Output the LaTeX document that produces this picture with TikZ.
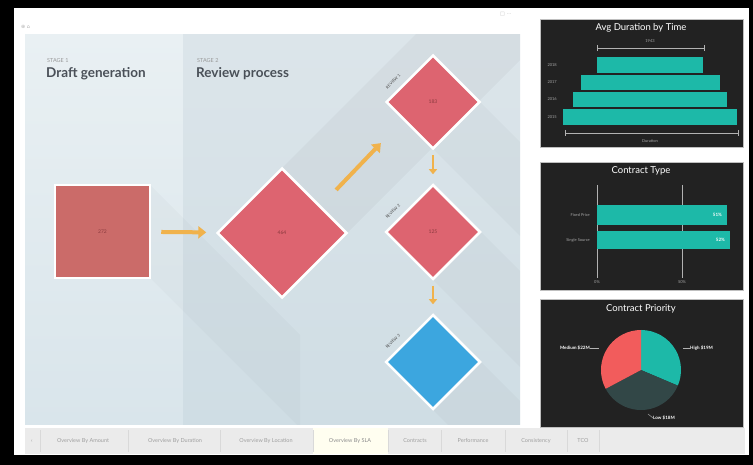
\documentclass[tikz,border=0pt]{standalone}
\usepackage{fontspec}
\setmainfont{Lato}
\newfontfamily\symfont{DejaVu Sans}
\usetikzlibrary{shapes.geometric,arrows.meta,calc}
\definecolor{stageAtop}{HTML}{E9F0F3}
\definecolor{stageAbot}{HTML}{D9E5EB}
\definecolor{stageBtop}{HTML}{DCE5EA}
\definecolor{stageBbot}{HTML}{CFDDE4}
\definecolor{redbox}{HTML}{CB6B69}
\definecolor{reddia}{HTML}{DD6470}
\definecolor{bluedia}{HTML}{3CA6DF}
\definecolor{arrowc}{HTML}{F0B24C}
\definecolor{panelc}{HTML}{222222}
\definecolor{tealc}{HTML}{1DB9A8}
\definecolor{pred}{HTML}{F25C5C}
\definecolor{pdark}{HTML}{324747}
\definecolor{tabbg}{HTML}{EBEBEB}
\definecolor{numc}{HTML}{8A3A3E}
\definecolor{titlec}{HTML}{4A5058}
\tikzset{
  sqbox/.style={rectangle, fill=redbox, draw=white, line width=2.5pt, minimum width=95pt, minimum height=93pt, inner sep=0pt, font=\fontsize{5}{6}\selectfont, text=numc},
  diabox/.style={diamond, aspect=1, fill=reddia, draw=white, line width=2.5pt, inner sep=0pt, font=\fontsize{5}{6}\selectfont, text=numc},
  flowarrow/.style={draw=arrowc, line width=4pt, -{Triangle[length=8pt,width=12pt]}},
  smallarrow/.style={draw=arrowc, line width=2.5pt, -{Triangle[length=5pt,width=8pt]}},
  revlbl/.style={rotate=45, font=\fontsize{4}{5}\selectfont, text=gray!60!black, inner sep=0pt},
  stagelbl/.style={anchor=base west, font=\fontsize{5.5}{6}\selectfont, text=gray!80, inner sep=0pt},
  stagetitle/.style={anchor=base west, font=\bfseries\fontsize{13.5}{15}\selectfont, text=titlec, inner sep=0pt},
  panelbox/.style={fill=panelc, draw=gray!50, line width=0.6pt},
  charttitle/.style={font=\fontsize{9.5}{11}\selectfont, text=white, inner sep=0pt},
  tinylbl/.style={font=\fontsize{4}{5}\selectfont, text=gray!70, inner sep=0pt},
  barlbl/.style={font=\bfseries\fontsize{4.5}{5}\selectfont, text=white, inner sep=0pt},
  pielbl/.style={font=\bfseries\fontsize{4.5}{5}\selectfont, text=white, inner sep=0pt},
  tablbl/.style={font=\fontsize{5.5}{6}\selectfont, text=gray!75, inner sep=0pt},
  tabsep/.style={draw=gray!30, line width=0.5pt},
  axisline/.style={draw=gray!60, line width=0.6pt}
}
\begin{document}
\begin{tikzpicture}[x=1pt,y=-1pt]
\useasboundingbox (0,0) rectangle (753,465);
% frame and page
\fill[black] (0,0) rectangle (753,465);
\fill[white] (14,8) rectangle (749,455);
% stage backgrounds
\shade[top color=stageAtop, bottom color=stageAbot] (25,35) rectangle (183,424);
\shade[top color=stageBtop, bottom color=stageBbot] (183,35) rectangle (520,424);
% long shadows
\begin{scope}
  \clip (25,35) rectangle (520,424);
  \fill[black, opacity=0.03] (282,168) -- (347,233) -- (647,-67) -- (582,-132) -- cycle;
  \fill[black, opacity=0.025] (480,102) -- (433,149) -- (633,349) -- (680,302) -- cycle;
  \fill[black, opacity=0.025] (481,232) -- (433,280) -- (633,480) -- (681,432) -- cycle;
  \fill[black, opacity=0.025] (481,362) -- (433,410) -- (633,610) -- (681,562) -- cycle;
  \fill[black, opacity=0.02] (150,185) -- (150,278) -- (300,428) -- (300,335) -- cycle;
\end{scope}
% small icons
\node[font=\symfont\fontsize{5}{6}\selectfont, text=gray!60, anchor=west, inner sep=0pt] (icons) at (21,27) {⊕ ⌂};
\node[font=\symfont\fontsize{5}{6}\selectfont, text=gray!50, anchor=west, inner sep=0pt] (icons2) at (500,14) {□ ⋯};
% stage titles
\node[stagelbl] (st1) at (47,63) {STAGE 1};
\node[stagetitle] (tt1) at (46,78) {Draft generation};
\node[stagelbl] (st2) at (197,63) {STAGE 2};
\node[stagetitle] (tt2) at (196,78) {Review process};
% flow shapes
\node[sqbox] (s272) at (102.5,231.5) {272};
\node[diabox, minimum width=130pt, minimum height=130pt] (d464) at (282,233) {464};
\node[diabox, minimum width=94pt, minimum height=94pt] (d183) at (433,102) {183};
\node[diabox, minimum width=95pt, minimum height=95pt] (d125) at (433,232) {125};
\node[diabox, fill=bluedia, minimum width=95pt, minimum height=95pt] (d3) at (433,362) {};
% review labels
\node[revlbl] (r1) at ($(d183.west)!0.3!(d183.north)+(-6,-6)$) {REVIEW 1};
\node[revlbl] (r2) at ($(d125.west)!0.3!(d125.north)+(-6,-6)$) {REVIEW 2};
\node[revlbl] (r3) at ($(d3.west)!0.3!(d3.north)+(-6,-6)$) {REVIEW 3};
% arrows
\draw[flowarrow, shorten <=10pt, shorten >=10pt] (s272) -- (d464);
\draw[flowarrow] ($(d464.north east)+(21,-10)$) -- ($(d183.south west)+(-28,17)$);
\draw[smallarrow, shorten <=5pt, shorten >=9pt] (d183) -- (d125);
\draw[smallarrow, shorten <=5pt, shorten >=9pt] (d125) -- (d3);
% ---------- chart 1
\draw[panelbox] (540,19) rectangle (743,147);
\node[charttitle] (c1t) at (641,28) {Avg Duration by Time};
\draw[axisline] (597,48) -- (704,48);
\draw[axisline] (597,45) -- (597,51);
\draw[axisline] (704,45) -- (704,51);
\node[tinylbl] (c1top) at (650,41) {1943};
\fill[tealc] (597,57) rectangle (703,73);
\fill[tealc] (581,75) rectangle (720,90);
\fill[tealc] (573,92) rectangle (727,107);
\fill[tealc] (563,109) rectangle (737,125);
\node[tinylbl, anchor=east] (y1) at (557,65) {2018};
\node[tinylbl, anchor=east] (y2) at (557,82.5) {2017};
\node[tinylbl, anchor=east] (y3) at (557,99.5) {2016};
\node[tinylbl, anchor=east] (y4) at (557,117) {2015};
\draw[axisline] (565,133) -- (738,133);
\draw[axisline] (565,130) -- (565,136);
\draw[axisline] (738,130) -- (738,136);
\node[tinylbl] (c1x) at (650,141) {Duration};
% ---------- chart 2
\draw[panelbox] (540,162) rectangle (743,290);
\node[charttitle] (c2t) at (641,171) {Contract Type};
\draw[axisline] (597,185) -- (597,278);
\draw[axisline] (682,185) -- (682,278);
\fill[tealc] (597,205) rectangle (727,225);
\fill[tealc] (597,231) rectangle (730,249);
\node[barlbl, anchor=east] (b1) at (722,215) {51\%};
\node[barlbl, anchor=east] (b2) at (725,240) {52\%};
\node[tinylbl, anchor=east] (l1) at (590,215) {Fixed Price};
\node[tinylbl, anchor=east] (l2) at (590,240) {Single Source};
\node[tinylbl] (x0) at (597,282) {0\%};
\node[tinylbl] (x50) at (682,282) {50\%};
% ---------- chart 3
\draw[panelbox] (540,299) rectangle (743,427);
\node[charttitle] (c3t) at (641,309) {Contract Priority};
\coordinate (pc) at (641,370);
\fill[tealc] (pc) -- ++(-90:40) arc[start angle=-90, end angle=23, radius=40] -- cycle;
\fill[pdark] (pc) -- ++(23:40) arc[start angle=23, end angle=152, radius=40] -- cycle;
\fill[pred] (pc) -- ++(152:40) arc[start angle=152, end angle=270, radius=40] -- cycle;
\node[pielbl, anchor=east] (pm) at (590,348) {Medium \$22M};
\node[pielbl, anchor=west] (ph) at (690,348) {High \$19M};
\node[pielbl, anchor=west] (pl) at (653,418) {Low \$18M};
\draw[gray!60, line width=0.4pt] (pm.east) -- ++(9,0);
\draw[gray!60, line width=0.4pt] (ph.west) -- ++(-7,0);
\draw[gray!60, line width=0.4pt] (pl.west) -- ++(-5,-4);
% ---------- tab bar
\fill[tabbg] (25,428) rectangle (745,454);
\fill[white!94!yellow] (313,428) rectangle (388,454);
\draw[tabsep] (40,430) -- (40,452);
\draw[tabsep] (128,430) -- (128,452);
\draw[tabsep] (220,430) -- (220,452);
\draw[tabsep] (313,430) -- (313,452);
\draw[tabsep] (388,430) -- (388,452);
\draw[tabsep] (441,430) -- (441,452);
\draw[tabsep] (505,430) -- (505,452);
\draw[tabsep] (567,430) -- (567,452);
\draw[tabsep] (599,430) -- (599,452);
\node[tablbl] (tab0) at (32,441) {‹};
\node[tablbl] (tab1) at (83,441) {Overview By Amount};
\node[tablbl] (tab2) at (175,441) {Overview By Duration};
\node[tablbl] (tab3) at (266,441) {Overview By Location};
\node[tablbl, text=gray!90] (tab4) at (350,441) {Overview By SLA};
\node[tablbl] (tab5) at (415,441) {Contracts};
\node[tablbl] (tab6) at (473,441) {Performance};
\node[tablbl] (tab7) at (536,441) {Consistency};
\node[tablbl] (tab8) at (583,441) {TCO};
\end{tikzpicture}
\end{document}
